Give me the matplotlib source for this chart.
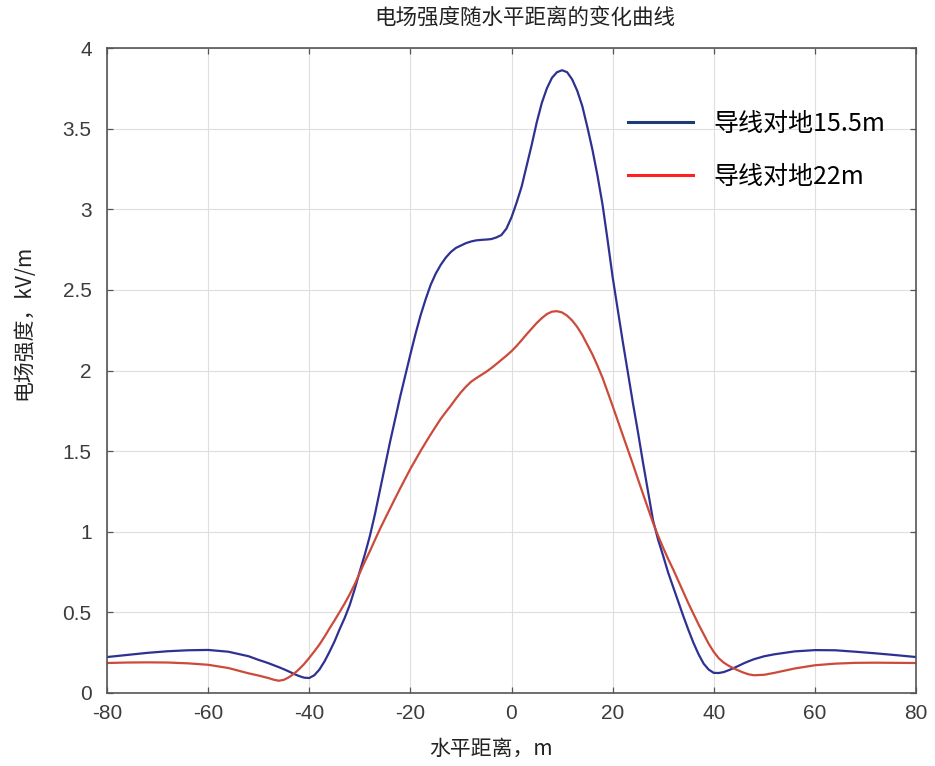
import matplotlib
matplotlib.use("Agg")
import matplotlib.pyplot as plt
from matplotlib.lines import Line2D

plt.rcParams["axes.unicode_minus"] = False

# horizontal distance, m
x = [-80, -76, -72, -68, -64, -60, -56, -52, -50,
     -49, -48, -47, -46, -45, -44, -43, -42, -41, -40, -39, -38, -37, -36, -35,
     -34, -33, -32, -31, -30, -29, -28, -27, -26, -25, -24, -23, -22, -21, -20,
     -19, -18, -17, -16, -15, -14, -13, -12, -11, -10, -9, -8, -7, -6, -5, -4,
     -3, -2, -1, 0, 1, 2, 3, 4, 5, 6, 7, 8, 9, 10, 11, 12, 13, 14, 15, 16, 17,
     18, 19, 20, 21, 22, 23, 24, 25, 26, 27, 28, 29, 30, 31, 32, 33, 34, 35, 36,
     37, 38, 39, 40, 41, 42, 43, 44, 45, 46, 47, 48,
     50, 52, 56, 60, 64, 68, 72, 76, 80]

# conductor height 15.5 m
e_155 = [0.223, 0.236, 0.249, 0.259, 0.265, 0.267, 0.256, 0.228, 0.205,
         0.195, 0.184, 0.172, 0.160, 0.147, 0.133, 0.118, 0.105, 0.095, 0.093,
         0.110, 0.145, 0.195, 0.255, 0.320,
         0.395, 0.465, 0.545, 0.645, 0.755, 0.860, 0.975, 1.110, 1.260, 1.410,
         1.560, 1.700, 1.840, 1.970, 2.100,
         2.225, 2.340, 2.440, 2.530, 2.600, 2.655, 2.700, 2.735, 2.760, 2.775,
         2.790, 2.800, 2.807, 2.810, 2.812, 2.815,
         2.825, 2.840, 2.880, 2.950, 3.040, 3.140, 3.270, 3.400, 3.540, 3.660,
         3.750, 3.815, 3.850, 3.862, 3.850, 3.805, 3.735, 3.640, 3.510, 3.370,
         3.210,
         3.030, 2.810, 2.580, 2.380, 2.180, 1.990, 1.800, 1.620, 1.430, 1.250,
         1.070, 0.950, 0.850, 0.745, 0.655, 0.565, 0.475, 0.390, 0.310,
         0.240, 0.182, 0.145, 0.125, 0.124, 0.130, 0.142, 0.155, 0.170, 0.185,
         0.198, 0.210,
         0.228, 0.240, 0.258, 0.266, 0.265, 0.256, 0.246, 0.235, 0.223]

# conductor height 22 m
e_22 = [0.186, 0.189, 0.190, 0.189, 0.184, 0.175, 0.155, 0.122, 0.108,
        0.100, 0.092, 0.082, 0.076, 0.082, 0.098, 0.120, 0.148, 0.180, 0.218,
        0.258, 0.300, 0.348, 0.400, 0.450,
        0.502, 0.555, 0.612, 0.675, 0.745, 0.815, 0.880, 0.950, 1.018, 1.082,
        1.145, 1.208, 1.270, 1.330, 1.390,
        1.445, 1.500, 1.552, 1.603, 1.652, 1.700, 1.742, 1.782, 1.825, 1.865,
        1.900, 1.930, 1.952, 1.972, 1.992, 2.015,
        2.040, 2.066, 2.092, 2.120, 2.152, 2.188, 2.225, 2.260, 2.295, 2.325,
        2.350, 2.365, 2.368, 2.360, 2.340, 2.310, 2.270, 2.220, 2.160, 2.100,
        2.030,
        1.955, 1.868, 1.780, 1.690, 1.600, 1.510, 1.420, 1.327, 1.235, 1.145,
        1.055, 0.975, 0.900, 0.830, 0.765, 0.695, 0.625, 0.555, 0.490,
        0.425, 0.365, 0.305, 0.255, 0.215, 0.188, 0.168, 0.152, 0.138, 0.125,
        0.115, 0.110,
        0.113, 0.125, 0.152, 0.172, 0.182, 0.187, 0.188, 0.187, 0.186]

labels = ["导线对地15.5m", "导线对地22m"]
xticks = [-80, -60, -40, -20, 0, 20, 40, 60, 80]
yticks = [0, 0.5, 1, 1.5, 2, 2.5, 3, 3.5, 4]
ytick_labels = ["0", "0.5", "1", "1.5", "2", "2.5", "3", "3.5", "4"]

cjk = ["Noto Sans CJK SC", "DejaVu Sans"]

fig = plt.figure(figsize=(9.35, 7.66), dpi=100)
ax = fig.add_axes([107 / 935, 1 - 693 / 766, 809 / 935, 645 / 766])

ax.plot(x, e_155, color="#2f3192", lw=1.6)
ax.plot(x, e_22, color="#cc4a3a", lw=1.6)

ax.set_xlim(-80, 80)
ax.set_ylim(0, 4)
ax.set_xticks(xticks)
ax.set_yticks(yticks)
ax.set_yticklabels(ytick_labels)
ax.grid(True, color="#dedede", lw=0.8)
ax.set_axisbelow(True)
ax.tick_params(direction="in", length=4, width=0.9, colors="#555555",
               top=True, right=True, labelsize=15, labelcolor="#3c3c3c")
ax.tick_params(axis="x", pad=8)
ax.tick_params(axis="y", pad=11)
for lab in ax.get_xticklabels() + ax.get_yticklabels():
    lab.set_family("Liberation Sans")
for sp in ax.spines.values():
    sp.set_color("#555555")
    sp.set_linewidth(1.2)

handles = [Line2D([], [], color="#1c3a78", lw=2.2),
           Line2D([], [], color="#ff2020", lw=2.2)]
leg = ax.legend(handles, labels, loc="upper left", bbox_to_anchor=(0.644, 0.903),
                frameon=False, borderpad=0, borderaxespad=0, handlelength=2.6,
                handletextpad=0.8, labelspacing=1.1,
                prop={"family": cjk, "size": 18})

fig.text(525 / 935, 1 - 18 / 766, "电场强度随水平距离的变化曲线", ha="center",
         va="center", fontsize=15.5, family=cjk, color="#222222")
fig.text(491 / 935, 1 - 749 / 766, "水平距离，m", ha="center", va="center",
         fontsize=15, family=cjk, color="#222222")
fig.text(23 / 935, 1 - 322 / 766, "电场强度，kV/m", ha="center", va="center",
         rotation=90, fontsize=15, family=cjk, color="#222222")

fig.savefig("out.png", dpi=100)
